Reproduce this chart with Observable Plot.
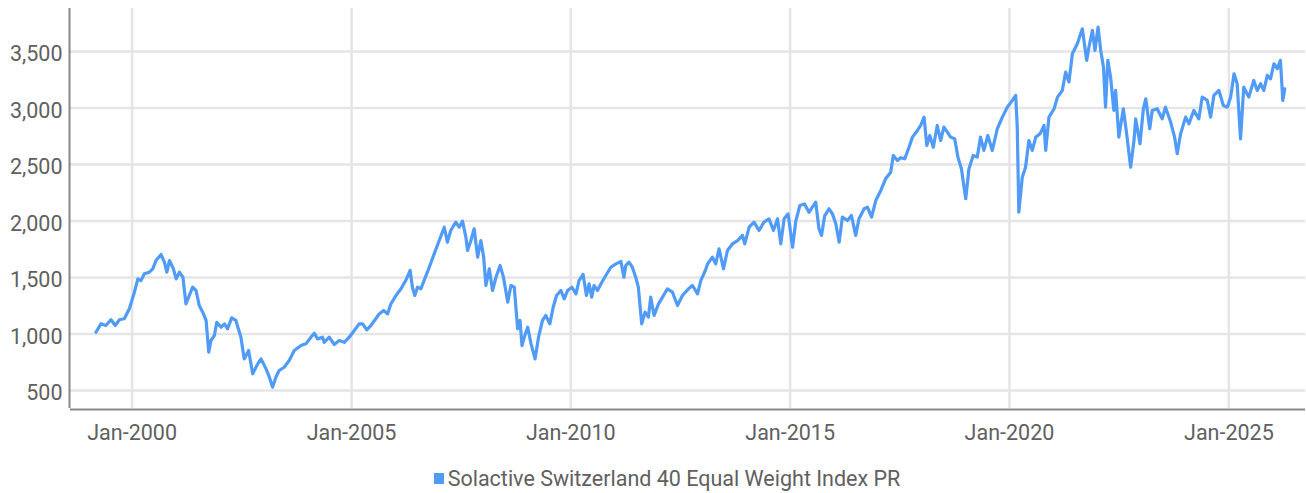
<!DOCTYPE html>
<html>
<head>
<meta charset="utf-8">
<script src="https://cdn.jsdelivr.net/npm/d3@7"></script>
<script src="https://cdn.jsdelivr.net/npm/@observablehq/plot@0.6"></script>
<style>
  html, body { margin: 0; padding: 0; background: #fff; }
  #chart { width: 1306px; }
  .legend { display: flex; justify-content: center; align-items: center; margin-top: 14px; height: 28px; padding-left: 28px;
    font-family: Roboto, "Liberation Sans", sans-serif; font-size: 21.5px; color: #606060; }
  .legend .sw { width: 10px; height: 11px; background: #4f9bf7; margin-right: 4px; }
</style>
</head>
<body>
<div id="chart"></div>
<script>
const seriesName = "Solactive Switzerland 40 Equal Weight Index PR";
const dates = [
  "1999-03-06","1999-04-16","1999-05-27","1999-07-09","1999-08-14","1999-09-17","1999-10-28","1999-12-09",
  "2000-01-20","2000-02-18","2000-03-15","2000-04-12","2000-05-23","2000-06-21","2000-07-18","2000-08-29",
  "2000-09-26","2000-10-16","2000-11-07","2000-12-10","2001-01-02","2001-01-29","2001-02-27","2001-03-24",
  "2001-04-21","2001-05-19","2001-06-16","2001-07-13","2001-08-11","2001-09-08","2001-09-30","2001-10-19",
  "2001-11-16","2001-12-06","2002-01-11","2002-02-08","2002-03-06","2002-04-09","2002-05-14","2002-06-25",
  "2002-07-22","2002-08-28","2002-10-01","2002-11-12","2002-12-09","2003-01-20","2003-02-17","2003-03-15",
  "2003-04-12","2003-05-09","2003-06-20","2003-08-01","2003-09-12","2003-11-07","2003-12-18","2004-01-29",
  "2004-02-26","2004-03-24","2004-05-05","2004-05-18","2004-06-29","2004-08-10","2004-09-21","2004-11-02",
  "2004-12-13","2005-01-24","2005-03-05","2005-04-03","2005-05-08","2005-06-11","2005-07-22","2005-08-19",
  "2005-09-25","2005-10-28","2005-11-25","2006-01-06","2006-02-17","2006-03-28","2006-05-04","2006-05-23",
  "2006-06-12","2006-07-04","2006-08-01","2006-08-28","2006-10-10","2006-11-20","2007-01-01","2007-02-12",
  "2007-03-10","2007-04-07","2007-05-19","2007-06-16","2007-07-14","2007-08-11","2007-08-25","2007-09-22",
  "2007-10-19","2007-11-17","2007-12-14","2008-01-06","2008-01-25","2008-02-22","2008-03-20","2008-04-17",
  "2008-05-22","2008-06-19","2008-07-25","2008-08-20","2008-09-17","2008-10-15","2008-11-04","2008-11-20",
  "2008-12-18","2009-01-07","2009-02-04","2009-03-09","2009-04-07","2009-05-10","2009-06-07","2009-07-10",
  "2009-08-07","2009-09-04","2009-10-10","2009-11-07","2009-12-05","2010-01-10","2010-02-13","2010-03-10",
  "2010-04-13","2010-05-11","2010-06-02","2010-06-24","2010-07-13","2010-08-11","2010-09-16","2010-10-19",
  "2010-11-30","2011-01-11","2011-02-22","2011-03-19","2011-04-03","2011-04-30","2011-05-28","2011-06-25",
  "2011-07-17","2011-08-14","2011-09-11","2011-10-09","2011-10-28","2011-11-25","2012-01-01","2012-02-04",
  "2012-03-15","2012-04-26","2012-06-07","2012-07-18","2012-09-07","2012-10-10","2012-11-21","2012-12-18",
  "2013-01-24","2013-02-13","2013-03-24","2013-04-21","2013-05-19","2013-06-25","2013-07-28","2013-09-08",
  "2013-10-20","2013-11-30","2013-12-19","2014-01-25","2014-03-06","2014-04-17","2014-05-28","2014-07-09",
  "2014-08-15","2014-09-18","2014-10-15","2014-11-12","2014-12-15","2015-01-21","2015-02-18","2015-03-23",
  "2015-05-01","2015-06-07","2015-07-05","2015-08-02","2015-08-29","2015-09-19","2015-10-16","2015-11-21",
  "2015-12-19","2016-01-16","2016-02-13","2016-03-11","2016-04-22","2016-05-25","2016-06-30","2016-07-27",
  "2016-09-08","2016-10-06","2016-11-09","2016-12-14","2017-01-25","2017-03-06","2017-04-17","2017-05-09",
  "2017-06-12","2017-07-09","2017-08-12","2017-09-17","2017-10-15","2017-11-26","2017-12-23","2018-01-20",
  "2018-02-12","2018-03-09","2018-04-07","2018-05-10","2018-06-07","2018-07-04","2018-08-02","2018-08-29",
  "2018-10-02","2018-10-29","2018-11-27","2019-01-02","2019-01-29","2019-03-05","2019-04-08","2019-05-05",
  "2019-06-02","2019-07-05","2019-08-11","2019-09-22","2019-11-03","2019-12-14","2020-01-25","2020-02-22",
  "2020-03-06","2020-03-19","2020-04-17","2020-05-14","2020-06-11","2020-07-09","2020-08-07","2020-09-12",
  "2020-10-15","2020-10-29","2020-11-25","2021-01-07","2021-02-04","2021-03-16","2021-04-13","2021-05-10",
  "2021-06-08","2021-07-19","2021-08-30","2021-10-05","2021-10-24","2021-11-22","2021-12-13","2022-01-08",
  "2022-01-30","2022-02-22","2022-03-11","2022-03-30","2022-04-22","2022-05-19","2022-06-03","2022-06-30",
  "2022-08-06","2022-09-03","2022-10-06","2022-11-03","2022-11-17","2022-12-23","2023-01-20","2023-02-09",
  "2023-03-14","2023-04-04","2023-05-15","2023-06-26","2023-07-23","2023-09-04","2023-10-07","2023-10-29",
  "2023-11-26","2024-01-07","2024-02-04","2024-03-15","2024-04-26","2024-05-24","2024-07-05","2024-08-02",
  "2024-08-29","2024-10-10","2024-11-16","2024-12-19","2025-01-16","2025-02-13","2025-03-11","2025-04-08",
  "2025-05-05","2025-06-16","2025-07-27","2025-08-25","2025-09-22","2025-10-19","2025-11-17","2025-12-14",
  "2026-01-11","2026-02-09","2026-03-06","2026-03-18","2026-03-26","2026-04-11"
];
const values = [
  1016,1090,1075,1126,1075,1126,1135,1223,
  1370,1488,1473,1533,1547,1577,1650,1703,
  1636,1547,1650,1577,1488,1547,1503,1267,
  1341,1414,1385,1252,1193,1120,839,943,
  987,1104,1060,1090,1046,1143,1120,972,
  780,854,648,736,780,692,618,530,
  618,677,706,766,854,898,913,972,
  1007,957,972,927,972,907,943,927,
  972,1031,1090,1090,1037,1075,1135,1178,
  1208,1178,1267,1341,1400,1473,1562,1414,
  1341,1414,1400,1473,1591,1709,1827,1945,
  1812,1916,1990,1945,1999,1857,1739,1827,
  1931,1680,1827,1680,1429,1577,1385,1500,
  1606,1503,1281,1429,1414,1046,1120,898,
  1001,1060,913,780,972,1120,1164,1090,
  1237,1341,1385,1311,1385,1414,1355,1473,
  1527,1341,1444,1326,1429,1385,1458,1518,
  1591,1621,1642,1503,1606,1636,1591,1503,
  1414,1090,1193,1149,1326,1164,1267,1326,
  1400,1370,1252,1341,1400,1429,1355,1473,
  1560,1621,1680,1621,1754,1577,1739,1798,
  1827,1872,1798,1945,1990,1916,1990,2019,
  1916,2019,1798,2019,2063,1768,2004,2137,
  2151,2077,2122,2166,1931,1872,2048,2108,
  2063,1975,1812,2034,2004,2048,1872,2019,
  2108,2122,2034,2181,2270,2373,2432,2580,
  2535,2560,2550,2653,2742,2801,2845,2919,
  2668,2757,2653,2845,2712,2830,2786,2742,
  2727,2565,2462,2197,2462,2580,2565,2742,
  2624,2757,2624,2816,2919,3007,3067,3111,
  2830,2078,2388,2476,2712,2624,2742,2771,
  2845,2624,2919,2993,3096,3155,3318,3229,
  3479,3568,3700,3421,3539,3686,3509,3715,
  3509,3361,3007,3421,3274,2978,3155,2742,
  2993,2771,2476,2712,2904,2683,2993,3081,
  2816,2978,2993,2904,3007,2875,2742,2595,
  2771,2919,2860,2978,2904,3096,3067,2919,
  3111,3155,3022,3007,3096,3302,3214,2727,
  3184,3096,3243,3155,3214,3155,3288,3258,
  3391,3347,3421,3214,3067,3170
];
const yTicks = [500, 1000, 1500, 2000, 2500, 3000, 3500];
const xTickYears = [2000, 2005, 2010, 2015, 2020, 2025];
const xDomain = ["1998-08-06", "2026-10-01"];
const yDomain = [341, 3880];

const data = dates.map((d, i) => ({date: new Date(d), value: values[i]}));
const xTicks = xTickYears.map(y => new Date(Date.UTC(y, 0, 1)));
const lineColor = "#4f9bf7";
const textColor = "#606060";

const chart = Plot.plot({
  width: 1306,
  height: 450,
  marginLeft: 70,
  marginRight: 1,
  marginTop: 8,
  marginBottom: 42,
  style: {fontFamily: "Roboto, 'Liberation Sans', sans-serif", fontSize: "21.5px", color: textColor, background: "#fff"},
  x: {type: "utc", domain: xDomain.map(d => new Date(d)), label: null},
  y: {domain: yDomain, label: null},
  marks: [
    Plot.gridY(yTicks, {stroke: "#e5e5e5", strokeOpacity: 1, strokeWidth: 2.5}),
    Plot.gridX(xTicks, {stroke: "#e5e5e5", strokeOpacity: 1, strokeWidth: 2.5}),
    Plot.axisY(yTicks, {tickSize: 0, tickPadding: 8, dy: 3, tickFormat: d3.format(","), fill: textColor, label: null}),
    Plot.axisX(xTicks, {tickSize: 0, tickPadding: 16, tickFormat: d3.utcFormat("%b-%Y"), fill: textColor, label: null}),
    Plot.ruleX([new Date(xDomain[0])], {stroke: "#888", strokeWidth: 2, dx: -1}),
    Plot.ruleY([yDomain[0]], {stroke: "#888", strokeWidth: 2, dy: 1}),
    Plot.line(data, {x: "date", y: "value", stroke: lineColor, strokeWidth: 3.2, strokeLinejoin: "round"})
  ]
});
document.getElementById("chart").append(chart);

const legend = document.createElement("div");
legend.className = "legend";
legend.innerHTML = `<span class="sw"></span><span>${seriesName}</span>`;
document.getElementById("chart").append(legend);
</script>
</body>
</html>
